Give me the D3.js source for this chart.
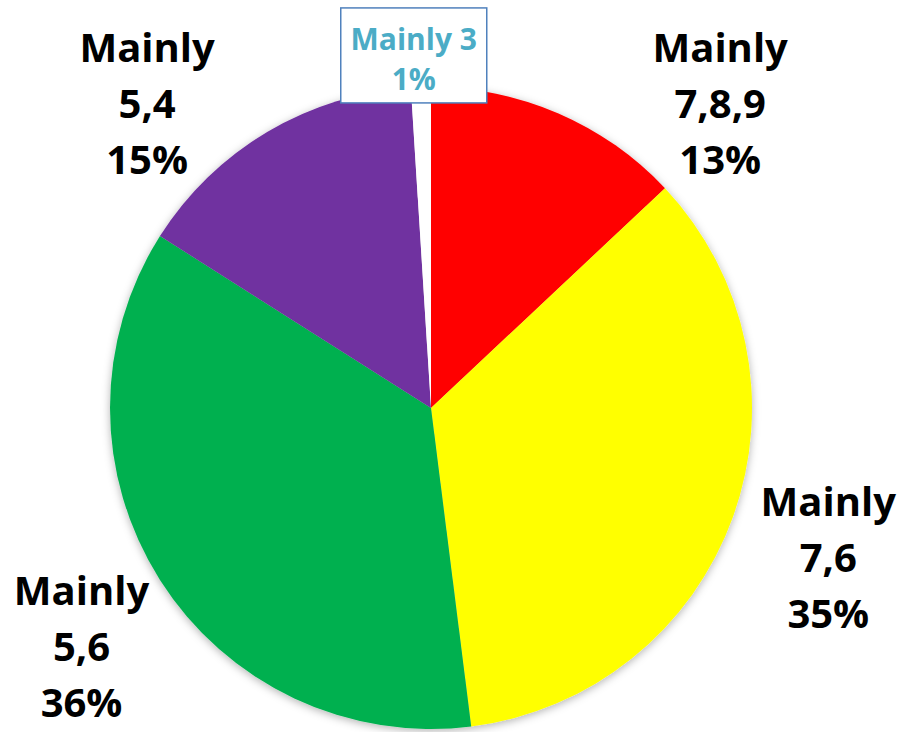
<!DOCTYPE html>
<html>
<head>
<meta charset="utf-8">
<script src="https://cdn.jsdelivr.net/npm/d3@7"></script>
<style>
  body { margin: 0; background: #fff; }
  svg { display: block; }
  text { font-family: "Open Sans", Lato, sans-serif; font-weight: bold; }
</style>
</head>
<body>
<svg id="chart" width="901" height="732"></svg>
<script>
// slices, clockwise from 12 o'clock
var categories = ["Mainly 7,8,9", "Mainly 7,6", "Mainly 5,6", "Mainly 5,4", "Mainly 3"];
var values = [13, 35, 36, 15, 1];
var colors = ["#ff0000", "#ffff00", "#00b050", "#7030a0", "#ffffff"];
var labelLines = [["Mainly", "7,8,9", "13%"], ["Mainly", "7,6", "35%"], ["Mainly", "5,6", "36%"], ["Mainly", "5,4", "15%"], ["Mainly 3", "1%"]];

// where each label sits: angle (deg from top) and distance from pie centre
var labelPlace = [[45, 409], [112.5, 430], [234, 432], [315.5, 405], [357.2, 353]];

var width = 901, height = 732;
var cx = 431, cy = 408, radius = 321;

var svg = d3.select("#chart");

var defs = svg.append("defs");
var f = defs.append("filter").attr("id", "shadow")
    .attr("x", "-10%").attr("y", "-10%").attr("width", "120%").attr("height", "120%");
f.append("feDropShadow").attr("dx", 0).attr("dy", 2).attr("stdDeviation", 4)
    .attr("flood-color", "#000").attr("flood-opacity", 0.3);

var g = svg.append("g").attr("transform", "translate(" + cx + "," + cy + ")");

var pie = d3.pie().sort(null).value(function(d) { return d; });
var arcs = pie(values);
var arc = d3.arc().innerRadius(0).outerRadius(radius);

var slices = g.append("g").attr("filter", "url(#shadow)");
slices.selectAll("path")
    .data(arcs)
    .enter().append("path")
    .attr("d", arc)
    .attr("fill", function(d, i) { return colors[i]; });

// labels
arcs.forEach(function(d, i) {
    var a = labelPlace[i][0] * Math.PI / 180, r = labelPlace[i][1];
    var x = Math.sin(a) * r, y = -Math.cos(a) * r;
    var lines = labelLines[i];
    if (i == 4) {
        // boxed small label
        var bw = 146, bh = 95;
        g.append("rect")
            .attr("x", x - bw / 2).attr("y", y - bh / 2)
            .attr("width", bw).attr("height", bh)
            .attr("fill", "#fff").attr("stroke", "#4f81bd").attr("stroke-width", 1.5);
        lines.forEach(function(t, j) {
            g.append("text")
                .attr("x", x).attr("y", y - 5 + j * 40)
                .attr("text-anchor", "middle")
                .attr("font-size", 30)
                .attr("fill", "#4bacc6")
                .text(t);
        });
    } else {
        lines.forEach(function(t, j) {
            g.append("text")
                .attr("x", x).attr("y", y - 57 + j * 56)
                .attr("text-anchor", "middle")
                .attr("font-size", 40)
                .attr("fill", "#000")
                .text(t);
        });
    }
});
</script>
</body>
</html>
